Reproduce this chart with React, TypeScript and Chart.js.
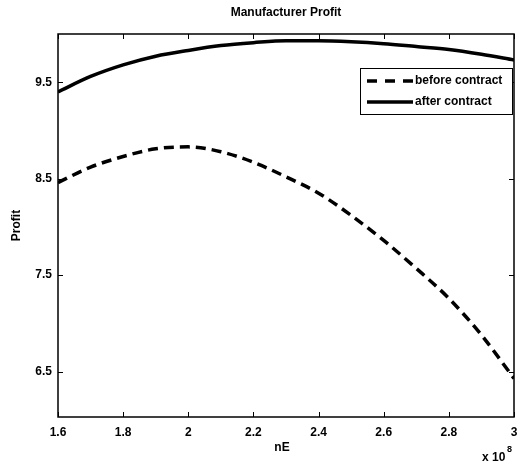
import React, { useEffect, useRef } from "react";
import { Chart, registerables } from "chart.js";

Chart.register(...registerables);

const xValues = [1.6, 1.7, 1.8, 1.9, 2.0, 2.1, 2.2, 2.3, 2.4, 2.5, 2.6, 2.7, 2.8, 2.9, 3.0];
const beforeContract = [8.46, 8.62, 8.73, 8.81, 8.83, 8.78, 8.67, 8.52, 8.35, 8.12, 7.86, 7.57, 7.26, 6.88, 6.43];
const afterContract = [9.4, 9.56, 9.68, 9.77, 9.83, 9.88, 9.91, 9.93, 9.93, 9.92, 9.9, 9.87, 9.84, 9.79, 9.73];
const xTicks = [1.6, 1.8, 2.0, 2.2, 2.4, 2.6, 2.8, 3.0];
const yTicks = [6.5, 7.5, 8.5, 9.5];
const seriesLabels = ["before contract", "after contract"];

const FONT = "'Liberation Sans', Arial, Helvetica, sans-serif";

const decorPlugin = {
  id: "matlabDecor",
  afterDraw(chart: any) {
    const { ctx, chartArea } = chart;
    const { left, right, top, bottom } = chartArea;
    const xs = chart.scales.x;
    const ys = chart.scales.y;
    ctx.save();
    // box
    ctx.strokeStyle = "#000";
    ctx.lineWidth = 1.5;
    ctx.strokeRect(left, top, right - left, bottom - top);
    // inward ticks
    ctx.lineWidth = 1;
    ctx.beginPath();
    xTicks.forEach((v) => {
      const px = Math.round(xs.getPixelForValue(v)) + 0.5;
      ctx.moveTo(px, bottom);
      ctx.lineTo(px, bottom - 5);
      ctx.moveTo(px, top);
      ctx.lineTo(px, top + 5);
    });
    yTicks.forEach((v) => {
      const py = Math.round(ys.getPixelForValue(v)) + 0.5;
      ctx.moveTo(left, py);
      ctx.lineTo(left + 5, py);
      ctx.moveTo(right, py);
      ctx.lineTo(right - 5, py);
    });
    ctx.stroke();

    // texts
    ctx.fillStyle = "#000";
    ctx.font = `bold 12px ${FONT}`;
    ctx.textAlign = "center";
    ctx.textBaseline = "middle";
    const cx = (left + right) / 2;
    ctx.fillText("Manufacturer Profit", cx, 13);
    ctx.fillText("nE", cx - 4, 448);
    ctx.save();
    ctx.translate(17, (top + bottom) / 2);
    ctx.rotate(-Math.PI / 2);
    ctx.fillText("Profit", 0, 0);
    ctx.restore();
    // exponent
    ctx.textAlign = "left";
    ctx.fillText("x 10", 482, 458);
    ctx.font = `bold 9px ${FONT}`;
    ctx.fillText("8", 507, 450);

    // legend
    const lx = 360, ly = 68, lw = 152, lh = 46;
    ctx.fillStyle = "#fff";
    ctx.fillRect(lx, ly, lw, lh);
    ctx.strokeStyle = "#000";
    ctx.lineWidth = 1;
    ctx.strokeRect(lx + 0.5, ly + 0.5, lw, lh);
    const rows = [ly + 13, ly + 34];
    ctx.lineCap = "butt";
    ctx.lineWidth = 3.5;
    ctx.setLineDash([10, 8]);
    ctx.beginPath();
    ctx.moveTo(367, rows[0]);
    ctx.lineTo(413, rows[0]);
    ctx.stroke();
    ctx.setLineDash([]);
    ctx.beginPath();
    ctx.moveTo(367, rows[1]);
    ctx.lineTo(413, rows[1]);
    ctx.stroke();
    ctx.fillStyle = "#000";
    ctx.font = `bold 12px ${FONT}`;
    ctx.textAlign = "left";
    ctx.fillText(seriesLabels[0], 415, rows[0]);
    ctx.fillText(seriesLabels[1], 415, rows[1]);
    ctx.restore();
  },
};

export default function App() {
  const canvasRef = useRef<HTMLCanvasElement | null>(null);

  useEffect(() => {
    document.body.style.margin = "0";
    const canvas = canvasRef.current;
    if (!canvas) return;
    const chart = new Chart(canvas, {
      type: "line",
      data: {
        datasets: [
          {
            label: seriesLabels[0],
            data: xValues.map((x, i) => ({ x, y: beforeContract[i] })),
            borderColor: "#000",
            borderWidth: 3.5,
            borderDash: [10, 6],
            pointRadius: 0,
            tension: 0.4,
            cubicInterpolationMode: "monotone",
            fill: false,
          },
          {
            label: seriesLabels[1],
            data: xValues.map((x, i) => ({ x, y: afterContract[i] })),
            borderColor: "#000",
            borderWidth: 3.5,
            pointRadius: 0,
            tension: 0.4,
            cubicInterpolationMode: "monotone",
            fill: false,
          },
        ],
      },
      options: {
        animation: false,
        responsive: false,
        maintainAspectRatio: false,
        layout: { padding: { top: 34, right: 6, left: 0, bottom: 0 } },
        plugins: {
          legend: { display: false },
          title: { display: false },
          tooltip: { enabled: false },
        },
        scales: {
          x: {
            type: "linear",
            min: 1.6,
            max: 3.0,
            afterBuildTicks: (s: any) => {
              s.ticks = xTicks.map((v) => ({ value: v }));
            },
            afterFit: (s: any) => {
              s.height = 48;
              s.paddingRight = 0;
              s.paddingLeft = 0;
            },
            grid: { display: true, drawOnChartArea: false, drawTicks: false },
            border: { display: false },
            ticks: {
              padding: 8,
              color: "#000",
              font: { family: FONT, size: 12, weight: "bold" },
              callback: (v: any) => String(Math.round(Number(v) * 10) / 10),
              maxRotation: 0,
            },
          },
          y: {
            type: "linear",
            min: 6.03,
            max: 10.0,
            afterBuildTicks: (s: any) => {
              s.ticks = yTicks.map((v) => ({ value: v }));
            },
            afterFit: (s: any) => {
              s.width = 58;
              s.paddingTop = 0;
              s.paddingBottom = 0;
            },
            grid: { display: true, drawOnChartArea: false, drawTicks: false },
            border: { display: false },
            ticks: {
              padding: 6,
              color: "#000",
              font: { family: FONT, size: 12, weight: "bold" },
              callback: (v: any) => String(v),
            },
          },
        },
      },
      plugins: [decorPlugin],
    } as any);
    return () => chart.destroy();
  }, []);

  return (
    <div style={{ position: "absolute", left: 0, top: 0, width: 520, height: 465, background: "#fff" }}>
      <canvas ref={canvasRef} width={520} height={465} style={{ width: 520, height: 465 }} />
    </div>
  );
}
